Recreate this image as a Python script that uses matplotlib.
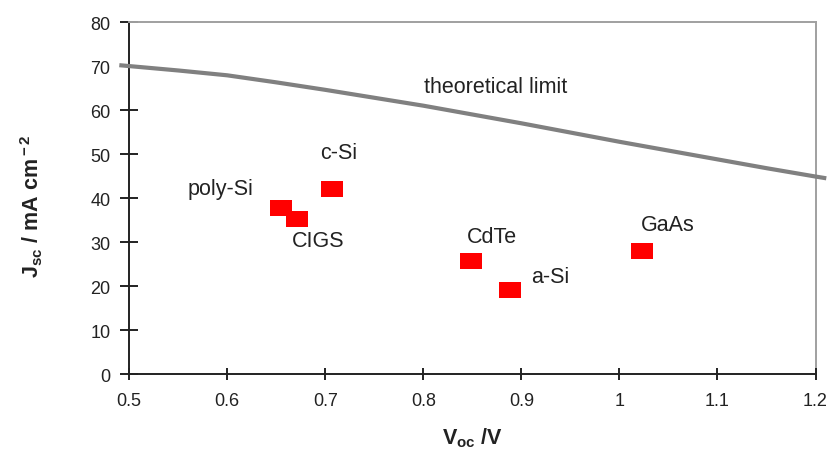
import numpy as np
import matplotlib
matplotlib.use("Agg")
import matplotlib.pyplot as plt
from matplotlib.ticker import FuncFormatter

plt.rcParams['font.family'] = ['Liberation Sans', 'DejaVu Sans']
plt.rcParams['mathtext.fontset'] = 'custom'
plt.rcParams['mathtext.rm'] = 'Liberation Sans:bold'
plt.rcParams['mathtext.it'] = 'Liberation Sans:bold'
plt.rcParams['mathtext.bf'] = 'Liberation Sans:bold'

# Solar cell technologies: open-circuit voltage (V) and short-circuit current (mA/cm2)
cells = ['poly-Si', 'CIGS', 'c-Si', 'CdTe', 'a-Si', 'GaAs']
voc = [0.655, 0.671, 0.707, 0.849, 0.888, 1.023]
jsc = [37.8, 35.3, 42.0, 25.6, 19.2, 28.0]

# label placement (data coords)
label_x = [0.593, 0.693, 0.714, 0.870, 0.929, 1.049]
label_y = [42.1, 30.4, 50.4, 31.3, 22.3, 33.9]

# theoretical limit curve
limit_voc = [0.49, 0.5, 0.55, 0.6, 0.65, 0.7, 0.75, 0.8, 0.85, 0.9, 0.95,
             1.0, 1.05, 1.1, 1.15, 1.2, 1.211]
limit_jsc = [70.2, 70.0, 69.0, 67.9, 66.3, 64.6, 62.8, 61.0, 59.0, 57.0, 54.9,
             52.8, 50.8, 48.8, 46.8, 44.9, 44.5]

xticks = [0.5, 0.6, 0.7, 0.8, 0.9, 1.0, 1.1, 1.2]
yticks = [0, 10, 20, 30, 40, 50, 60, 70, 80]


def main():
    fig = plt.figure(figsize=(8.33, 4.52), dpi=100)
    ax = fig.add_axes([0.155, 0.170, 0.824, 0.779])

    ax.plot(limit_voc, limit_jsc, color='#808080', lw=3, clip_on=False,
            solid_capstyle='butt', solid_joinstyle='round', zorder=3)

    # slightly wide rectangular markers
    rect = [(-0.5, -0.385), (0.5, -0.385), (0.5, 0.385), (-0.5, 0.385), (-0.5, -0.385)]
    ax.plot(voc, jsc, linestyle='none', marker=rect, markersize=15.6,
            color='#ff0000', markeredgewidth=0, zorder=4)

    for name, x, y in zip(cells, label_x, label_y):
        ax.text(x, y, name, ha='center', va='center', fontsize=15.5, color='#222222')
    ax.text(0.874, 65.3, 'theoretical limit', ha='center', va='center',
            fontsize=15.5, color='#222222')

    ax.set_xlim(0.5, 1.2)
    ax.set_ylim(0, 80)
    ax.set_xticks(xticks)
    ax.set_yticks(yticks)
    ax.xaxis.set_major_formatter(FuncFormatter(lambda v, p: f'{v:g}'))

    for side in ['left', 'bottom']:
        ax.spines[side].set_color('#222222')
        ax.spines[side].set_linewidth(1.4)
    for side in ['top', 'right']:
        ax.spines[side].set_color('#a0a0a0')
        ax.spines[side].set_linewidth(1.4)
    ax.spines['right'].set_zorder(1)

    ax.tick_params(axis='y', direction='inout', length=13, width=1.4,
                   color='#222222', labelsize=13, labelcolor='#222222', pad=7)
    ax.tick_params(axis='x', direction='inout', length=9, width=1.4,
                   color='#222222', labelsize=13, labelcolor='#222222', pad=8)

    ax.set_ylabel(r'J$_{\rm sc}$ / mA cm$^{\rm -2}$', fontsize=15.5,
                  fontweight='bold', color='#222222')
    ax.yaxis.set_label_coords(-0.122, 0.48)
    ax.set_xlabel(r'V$_{\rm oc}$ /V', fontsize=15.5, fontweight='bold',
                  color='#222222')
    ax.xaxis.set_label_coords(0.5, -0.146)

    fig.savefig('out.png', dpi=100)


if __name__ == "__main__":
    main()
